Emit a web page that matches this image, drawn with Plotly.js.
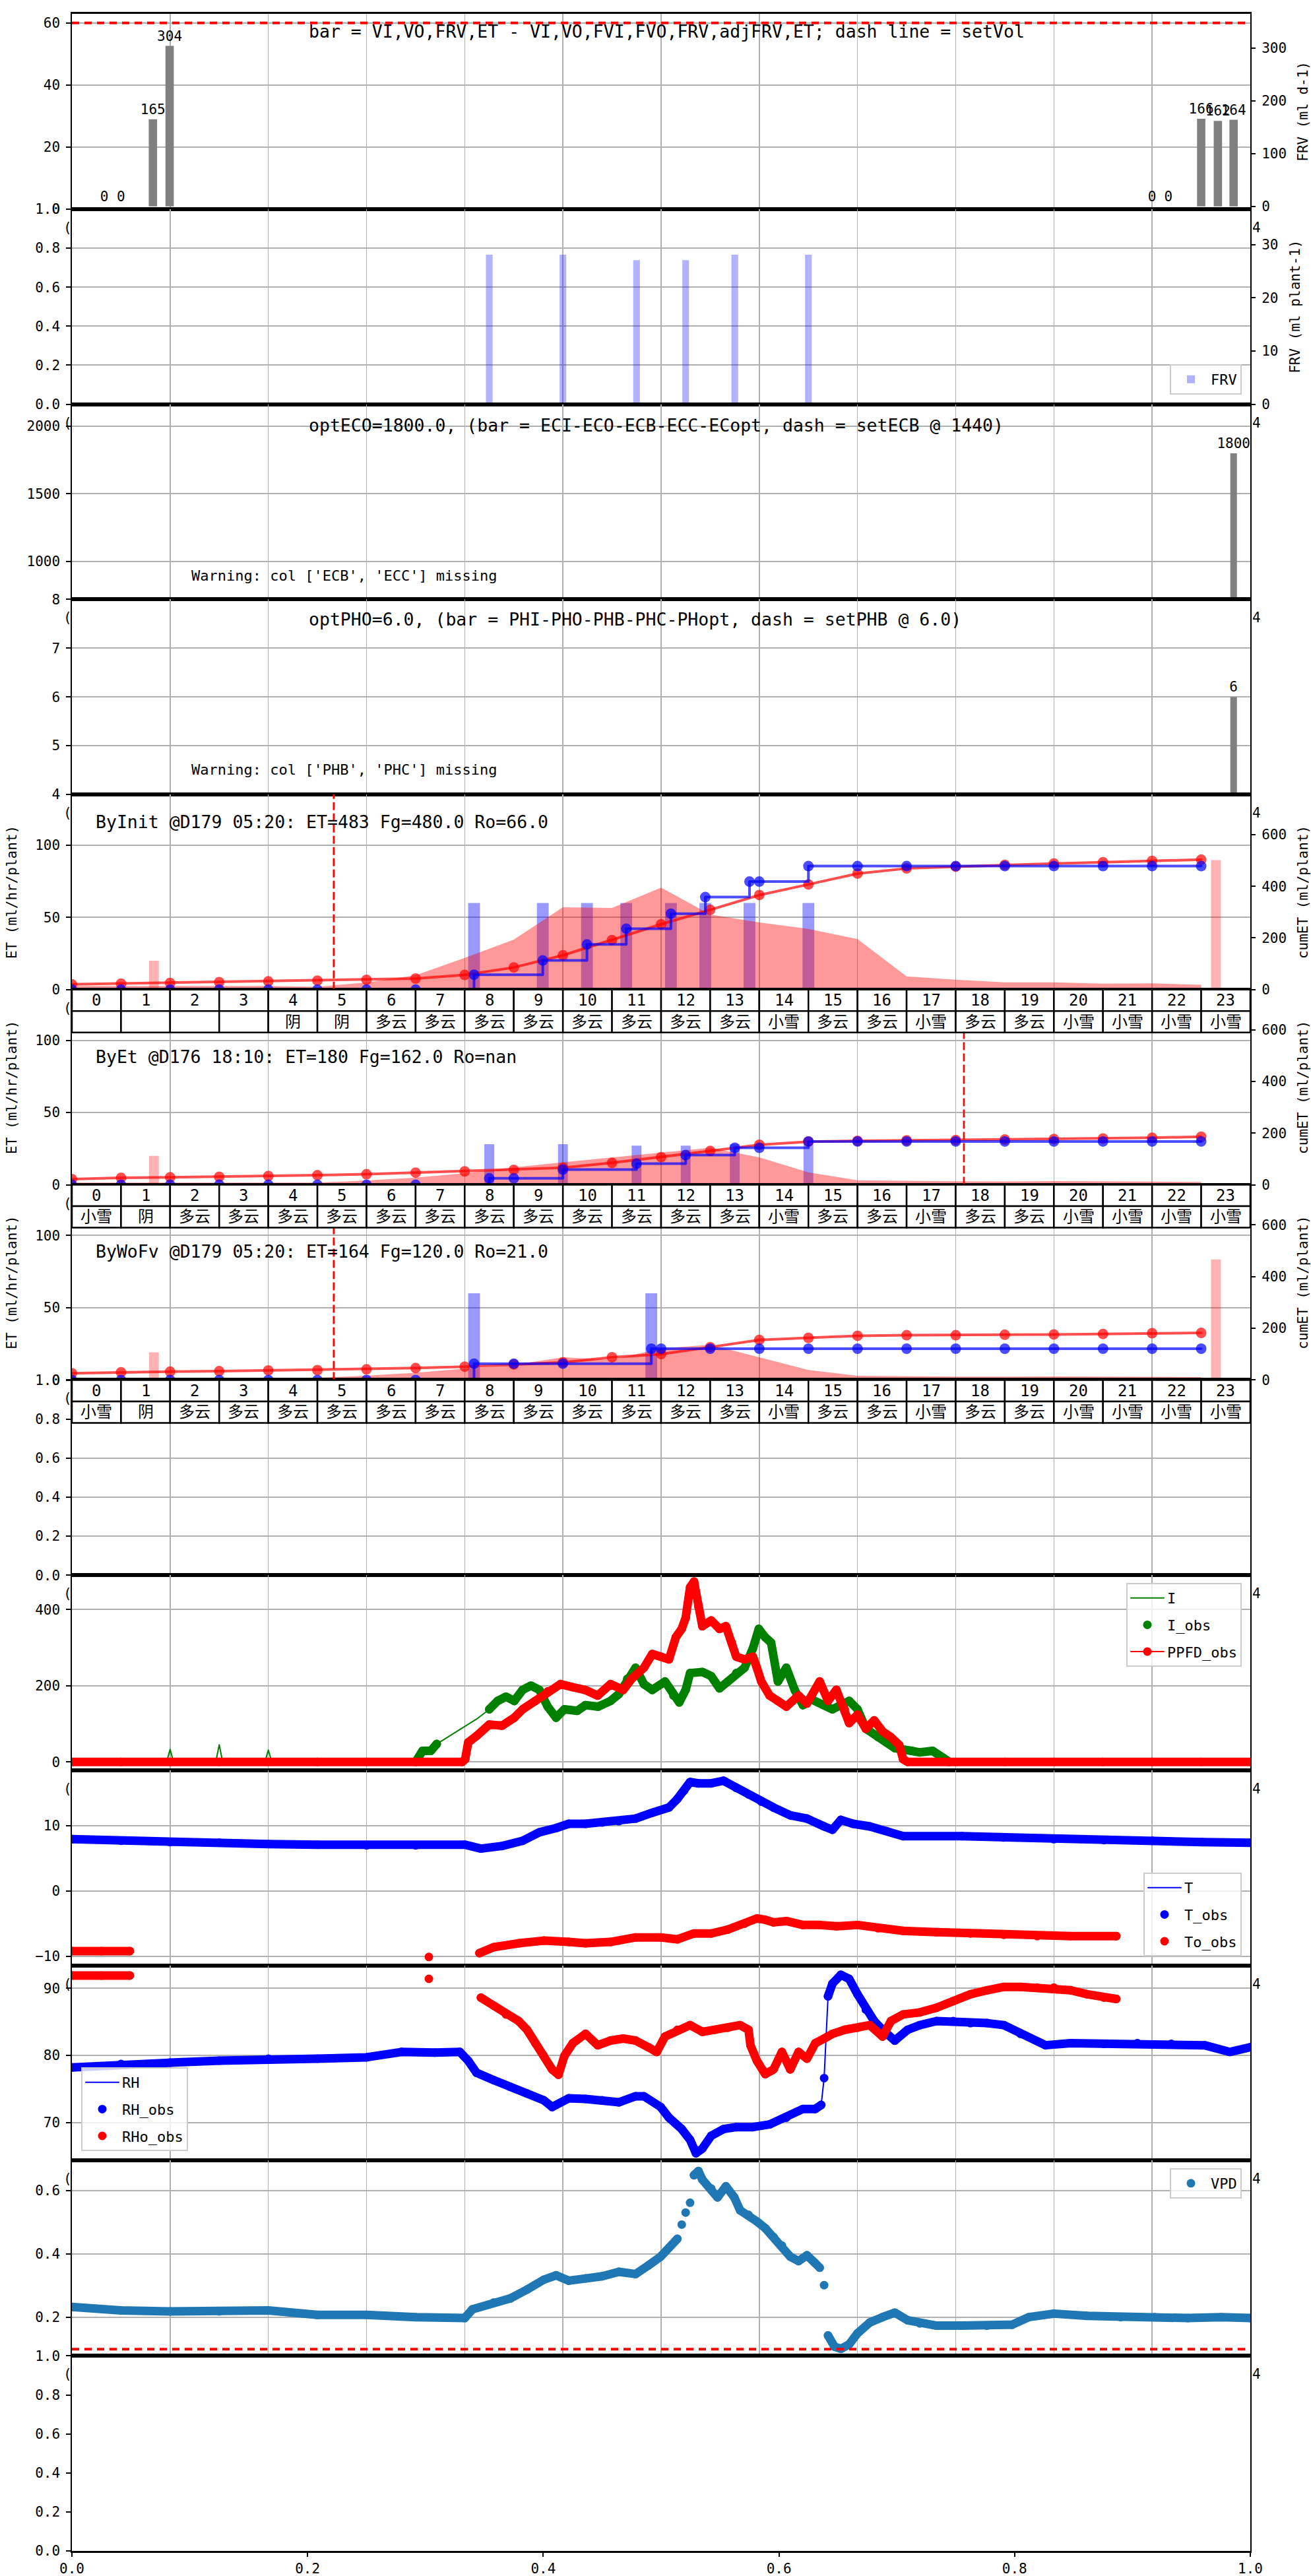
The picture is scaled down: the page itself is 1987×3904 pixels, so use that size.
<!DOCTYPE html>
<html><head><meta charset="utf-8">
<script src="https://cdn.plot.ly/plotly-3.0.1.min.js"></script>
<style>body{margin:0;background:#fff}.js-line{stroke-linejoin:round;stroke-linecap:round}</style>
</head><body>
<div id="chart" style="width:1987px;height:3904px"></div>
<script>
// ---------------- DATA ----------------
// Panel 1: volumes (bars on right axis, ml d-1)
const p1BarX = [0.66, 1.0, 1.65, 1.99, 22.0, 22.33, 23.0, 23.34, 23.66];
const p1BarY = [0, 0, 165, 304, 0, 0, 166, 162, 164];
const setVol = 60;
const p1Title = 'bar = VI,VO,FRV,ET - VI,VO,FVI,FVO,FRV,adjFRV,ET; dash line = setVol';
// Panel 2: FRV per plant
const frvX = [8.5, 10.0, 11.5, 12.5, 13.5, 15.0];
const frvY = [28.1, 28.1, 27.1, 27.1, 28.1, 28.1];
// Panel 3: EC
const ecoBarX = [23.66];
const ecoBarY = [1800];
const ecoTitle = 'optECO=1800.0, (bar = ECI-ECO-ECB-ECC-ECopt, dash = setECB @ 1440)';
const ecoWarn = "Warning: col ['ECB', 'ECC'] missing";
// Panel 4: PH
const phoBarX = [23.66];
const phoBarY = [6];
const phoTitle = 'optPHO=6.0, (bar = PHI-PHO-PHB-PHC-PHopt, dash = setPHB @ 6.0)';
const phoWarn = "Warning: col ['PHB', 'PHC'] missing";

// ET panels (hourly)
const hours = [0,1,2,3,4,5,6,7,8,9,10,11,12,13,14,15,16,17,18,19,20,21,22,23];
const hourLabels = ['0','1','2','3','4','5','6','7','8','9','10','11','12','13','14','15','16','17','18','19','20','21','22','23'];
const weather5 = ['','','','','阴','阴','多云','多云','多云','多云','多云','多云','多云','多云','小雪','多云','多云','小雪','多云','多云','小雪','小雪','小雪','小雪'];
const weather67 = ['小雪','阴','多云','多云','多云','多云','多云','多云','多云','多云','多云','多云','多云','多云','小雪','多云','多云','小雪','多云','多云','小雪','小雪','小雪','小雪'];

const et5 = [2.5,2.5,2.5,2.5,2.5,2.0,5,10,22,34.6,57,56.5,70.6,52,46.5,42,35,9.2,6.9,5.1,5.1,4.2,4.4,3.4];
const cum5 = [20.5,23.5,26,29,32,35,38,43,57,86,133,192,253,309,366,407,449,469,476,483,488,493,498,503];
const cumObs5 = [[0,0],[1,0],[2,0],[3,0],[4,0],[5,0],[6,0],[7,0],[8.19,58],[9.59,113],[10.49,175],[11.29,236],[12.2,294],[12.9,358],[13.8,418],[14,418],[15,478],[16,478],[17,478],[18,478],[19,478],[20,478],[21,478],[22,478],[23,478]];
const frv5X = [8.19,9.59,10.49,11.29,12.2,12.9,13.8,15.0];
const frv5Y = [60,60,60,60,60,60,60,60];
const pink5X = [1.67,23.3];
const pink5Y = [112,501];
const title5 = 'ByInit @D179 05:20: ET=483 Fg=480.0 Ro=66.0';
const evt5 = 5.333;

const et6 = [1.5,1.5,1.5,1.5,1.5,1.5,3,5,8,12,15.6,19,22.4,25.6,19,8.6,3.1,2.7,2.5,2.3,2.6,2.4,2.2,2.0];
const cum6 = [22,27,29,31,34,37,41,47,52,58,66,85,107,131,155,167,170,172,173,175,177,179,182,186];
const cumObs6 = [[0,0],[1,0],[2,0],[3,0],[4,0],[5,0],[6,0],[7,0],[8.5,25],[9,25],[10,59],[11.5,82],[12.5,115],[13.5,143],[14,143],[15,167.6],[16,167.6],[17,167.6],[18,167.6],[19,167.6],[20,167.6],[21,167.6],[22,167.6],[23,167.6]];
const frv6X = [8.5,10,11.5,12.5,13.5,15];
const frv6Y = [28.1,28.1,27.1,27.1,28.1,28.1];
const pink6X = [1.67];
const pink6Y = [112];
const title6 = 'ByEt @D176 18:10: ET=180 Fg=162.0 Ro=nan';
const evt6 = 18.167;

const et7 = [1.5,1.5,1.5,1.5,1.5,1.5,3,5,7.8,10.5,15.7,14,21.8,24.4,15.7,6.9,2.9,2.5,2.4,2.3,2.5,2.3,2.2,2.0];
const cum7 = [26,30,32,34,37,38,41,46,51.6,60,68,88,100,127,155,163,171,173,173,175,176,178,181,182];
const cumObs7 = [[0,0],[1,0],[2,0],[3,0],[4,0],[5,0],[6,0],[7,0],[8.19,63],[9,63],[10,63],[11.8,121],[12,121],[13,121],[14,121],[15,121],[16,121],[17,121],[18,121],[19,121],[20,121],[21,121],[22,121],[23,121]];
const frv7X = [8.19,11.8];
const frv7Y = [60,60];
const pink7X = [1.67,23.3];
const pink7Y = [107,466];
const title7 = 'ByWoFv @D179 05:20: ET=164 Fg=120.0 Ro=21.0';
const evt7 = 5.333;

// Panel 9: light
const Iline = [[0,0],[1.93,0],[2.0,33],[2.07,0],[2.93,0],[3.0,45],[3.07,0],[3.93,0],[4.0,31],[4.07,0],[7.0,0],[7.14,29],[7.31,29],[7.43,47],[8.25,113],[8.5,138],[8.67,160],[8.84,171],[9.01,160],[9.18,189],[9.35,200],[9.52,189],[9.69,145],[9.86,116],[10.03,138],[10.29,134],[10.46,149],[10.72,145],[10.97,160],[11.14,178],[11.31,218],[11.48,247],[11.65,204],[11.82,189],[12.08,211],[12.25,174],[12.37,156],[12.5,189],[12.59,233],[12.84,236],[13.02,225],[13.19,193],[13.36,211],[13.53,233],[13.7,247],[13.87,298],[13.99,349],[14.12,327],[14.24,313],[14.38,211],[14.55,247],[14.72,189],[14.89,149],[15.06,164],[15.32,149],[15.49,138],[15.83,160],[16.0,138],[16.17,87],[16.42,65],[16.76,36],[17.1,29],[17.27,25],[17.53,29],[17.7,11],[17.87,0],[24,0]];
const Iobs = [[7.0,0],[7.14,29],[7.31,29],[7.43,47],[7.9,null],[8.5,138],[8.67,160],[8.84,171],[9.01,160],[9.18,189],[9.35,200],[9.52,189],[9.69,145],[9.86,116],[10.03,138],[10.29,134],[10.46,149],[10.72,145],[10.97,160],[11.14,178],[11.31,218],[11.48,247],[11.65,204],[11.82,189],[12.08,211],[12.25,174],[12.37,156],[12.5,189],[12.59,233],[12.84,236],[13.02,225],[13.19,193],[13.36,211],[13.53,233],[13.7,247],[13.87,298],[13.99,349],[14.12,327],[14.24,313],[14.38,211],[14.55,247],[14.72,189],[14.89,149],[15.06,164],[15.32,149],[15.49,138],[15.83,160],[16.0,138],[16.17,87],[16.42,65],[16.76,36],[17.1,29],[17.27,25],[17.53,29],[17.7,11],[17.87,0]];
const PPFDobs = [[0,0],[1,0],[2,0],[3,0],[4,0],[5,0],[6,0],[7,0],[7.95,0],[8.01,7],[8.07,51],[8.25,69],[8.5,98],[8.76,95],[9.01,116],[9.18,138],[9.44,160],[9.69,185],[9.95,204],[10.2,196],[10.45,189],[10.71,174],[10.97,204],[11.23,189],[11.4,218],[11.65,247],[11.82,283],[11.99,276],[12.16,269],[12.3,327],[12.42,349],[12.5,378],[12.59,458],[12.67,473],[12.76,407],[12.84,356],[13.02,371],[13.19,349],[13.32,356],[13.44,313],[13.53,276],[13.7,269],[13.87,276],[13.95,247],[14.04,211],[14.21,174],[14.38,160],[14.55,145],[14.8,174],[14.97,153],[15.23,211],[15.4,160],[15.57,189],[15.74,138],[15.83,102],[16.0,124],[16.17,87],[16.34,109],[16.51,80],[16.68,65],[16.85,44],[16.93,7],[17.02,0],[18,0],[19,0],[20,0],[21,0],[22,0],[23,0],[24,0]];

// Panel 10: temperature
const Tobs = [[0,7.95],[1,7.7],[2,7.5],[3,7.4],[4,7.2],[5,7.1],[6,7.0],[7,7.0],[8,7.1],[8.33,6.5],[8.76,6.9],[9.18,7.7],[9.52,9.0],[9.86,9.65],[10.12,10.3],[10.46,10.3],[10.8,10.5],[11.14,10.7],[11.48,11.1],[11.82,12.0],[12.16,12.8],[12.33,14.1],[12.47,15.4],[12.59,16.7],[12.76,16.5],[13.02,16.5],[13.27,16.9],[13.53,15.8],[13.78,14.8],[14.04,13.7],[14.29,12.8],[14.63,11.6],[14.97,11.1],[15.32,9.9],[15.49,9.4],[15.66,10.9],[15.91,10.3],[16.25,9.9],[16.59,9.2],[16.93,8.4],[18.13,8.4],[18.98,8.2],[20.0,7.95],[21.02,7.8],[22.01,7.7],[23.02,7.5],[24.0,7.4]];
const Toobs = [[0,-9.2],[0.6,-9.2],[1.18,-9.2],[1.5,null],[7.27,-10.1],[7.8,null],[8.3,-9.5],[8.59,-8.6],[9.1,-8.0],[9.61,-7.6],[10.12,-7.8],[10.46,-8.0],[10.97,-7.8],[11.48,-7.1],[11.99,-7.1],[12.33,-7.4],[12.67,-6.5],[13.02,-6.5],[13.36,-5.9],[13.7,-5.0],[13.95,-4.2],[14.12,-4.4],[14.29,-4.8],[14.55,-4.6],[14.89,-5.2],[15.23,-5.2],[15.57,-5.4],[16.0,-5.2],[16.42,-5.7],[16.93,-6.1],[17.61,-6.3],[18.3,-6.5],[18.98,-6.7],[19.66,-6.9],[20.34,-6.9],[21.27,-6.9]];

// Panel 11: humidity
const RHobs = [[0,78.2],[1,78.7],[2,78.9],[3,79.2],[4,79.5],[5,79.5],[6,79.7],[6.71,80.5],[7.39,80.4],[7.9,80.5],[8.07,79.2],[8.24,77.4],[8.59,76.3],[8.93,75.3],[9.27,74.3],[9.61,73.3],[9.78,72.3],[10.12,73.6],[10.46,73.5],[10.8,73.3],[11.14,73.0],[11.48,73.9],[11.65,73.9],[11.99,72.3],[12.16,70.7],[12.42,69.0],[12.59,67.4],[12.71,65.4],[12.84,66.1],[13.02,68.0],[13.27,69.0],[13.53,69.3],[13.87,69.3],[14.21,69.7],[14.55,70.7],[14.89,72.0],[15.14,72.0],[15.26,72.6],[15.29,null],[15.32,76.6],[15.36,null],[15.4,88.8],[15.49,90.7],[15.66,92.0],[15.83,91.4],[16.0,89.1],[16.17,86.8],[16.34,85.1],[16.51,83.8],[16.76,82.2],[17.02,83.8],[17.27,84.5],[17.61,85.1],[17.95,85.1],[18.3,84.8],[18.64,84.8],[18.98,84.5],[19.32,83.2],[19.83,81.5],[20.34,81.8],[21.02,81.7],[21.7,81.8],[22.39,81.7],[23.07,81.5],[23.58,80.5],[24.0,81.2]];
const RHoobs = [[0,91.9],[0.6,91.9],[1.18,91.9],[1.5,null],[7.27,91.4],[7.8,null],[8.33,88.6],[8.59,87.4],[8.84,86.1],[9.1,85.1],[9.27,83.8],[9.44,81.8],[9.61,79.9],[9.78,77.9],[9.91,77.1],[10.03,79.9],[10.2,81.8],[10.46,83.2],[10.71,81.5],[10.97,82.2],[11.23,82.5],[11.48,82.2],[11.74,81.2],[11.91,80.5],[12.08,82.8],[12.33,83.8],[12.59,84.5],[12.84,83.5],[13.1,83.8],[13.36,84.1],[13.61,84.5],[13.78,83.8],[13.82,81.5],[13.95,79.2],[14.12,77.2],[14.29,77.9],[14.46,80.5],[14.63,77.9],[14.8,80.5],[14.97,79.5],[15.14,81.8],[15.32,82.5],[15.49,83.2],[15.74,83.8],[16.0,84.1],[16.25,84.5],[16.51,82.8],[16.68,85.1],[16.93,86.1],[17.27,86.4],[17.61,87.1],[17.95,88.1],[18.3,89.1],[18.64,89.7],[18.98,90.2],[19.32,90.2],[19.66,90.1],[20.0,90.1],[20.34,89.7],[20.68,89.1],[21.02,88.6],[21.27,88.4]];

// Panel 12: VPD
const VPDobs = [[0,0.233],[1,0.222],[2,0.219],[3,0.219],[4,0.222],[5,0.208],[6,0.208],[7,0.201],[8,0.198],[8.16,0.226],[8.59,0.247],[8.93,0.26],[9.27,0.288],[9.61,0.319],[9.86,0.333],[10.12,0.316],[10.46,0.323],[10.8,0.33],[11.14,0.344],[11.48,0.337],[11.74,0.364],[11.99,0.392],[12.16,0.42],[12.33,0.448],[12.38,null],[12.42,0.493],[12.46,null],[12.5,0.531],[12.55,null],[12.59,0.562],[12.63,null],[12.67,0.649],[12.76,0.662],[12.84,0.635],[13.02,0.607],[13.15,0.579],[13.32,0.614],[13.49,0.579],[13.61,0.538],[13.78,0.524],[13.95,0.503],[14.12,0.482],[14.29,0.454],[14.46,0.427],[14.63,0.392],[14.8,0.378],[14.97,0.396],[15.14,0.371],[15.23,0.357],[15.28,null],[15.32,0.302],[15.36,null],[15.4,0.143],[15.53,0.108],[15.66,0.101],[15.83,0.115],[16.0,0.15],[16.25,0.184],[16.51,0.201],[16.76,0.215],[17.02,0.191],[17.27,0.181],[17.61,0.174],[18.13,0.174],[18.64,0.174],[19.15,0.177],[19.49,0.201],[20.0,0.212],[20.68,0.205],[21.36,0.201],[22.05,0.201],[22.73,0.198],[23.41,0.201],[24.0,0.198]];
const vpdLimit = 0.1;

// ---------------- LAYOUT HELPERS ----------------
const FONT = 'DejaVu Sans Mono, Noto Sans CJK SC, monospace';
const GRID = '#b0b0b0';
const T0 = 21, B0 = 3866, L0 = 109, R0 = 1895;
const PH = (B0 - T0) / 13;
const yp = px => (B0 - px) / (B0 - T0);
const xp = px => (px - L0) / (R0 - L0);
const pTop = i => T0 + (i - 1) * PH;
const pBot = i => T0 + i * PH;
const X = a => a.map(p => p[0]);
const Y = a => a.map(p => p[1]);

const layout = {
  width: 1987, height: 3904,
  margin: {l: L0, r: 1987 - R0, t: T0, b: 3904 - B0},
  paper_bgcolor: 'white', plot_bgcolor: 'white',
  font: {family: FONT, size: 21, color: 'black'},
  showlegend: true, barmode: 'overlay', hovermode: false,
  annotations: [], shapes: []
};

const yRanges = {1:[0,62.9],2:[0,1.0005],3:[720,2163],4:[3.999,8.001],5:[0,135],6:[0,135],7:[0,135],8:[0,1.0005],9:[-22,490],10:[-11.4,18.5],11:[64.3,93.4],12:[0.079,0.695],13:[0,1.0005]};
const yTicks = {1:[0,20,40,60],2:[0,0.2,0.4,0.6,0.8,1.0],3:[1000,1500,2000],4:[4,5,6,7,8],5:[0,50,100],6:[0,50,100],7:[0,50,100],8:[0,0.2,0.4,0.6,0.8,1.0],9:[0,200,400],10:[-10,0,10],11:[70,80,90],12:[0.2,0.4,0.6],13:[0,0.2,0.4,0.6,0.8,1.0]};
const yFmt = {2:'.1f',8:'.1f',12:'.1f',13:'.1f'};

for (let i = 1; i <= 13; i++) {
  const xs = i === 1 ? '' : String(i);
  const xa = {
    domain: [0, 1], anchor: 'y' + xs, range: i === 13 ? [0, 1] : [0, 24],
    showgrid: i !== 13, gridcolor: GRID, gridwidth: 1.5,
    tickmode: 'linear', tick0: 0, dtick: i === 13 ? 0.2 : 2,
    showticklabels: i === 13, ticks: i === 13 ? 'outside' : '',
    ticklen: 6, tickwidth: 2, tickcolor: 'black', tickformat: '.1f',
    showline: true, linecolor: 'black', linewidth: 3, mirror: true, zeroline: false,
    tickfont: {size: 21}, ticklabelstandoff: 0
  };
  const d0 = Math.max(0, 1 - i / 13), d1 = Math.min(1, 1 - (i - 1) / 13);
  const ya = {
    domain: [d0, d1], anchor: 'x' + xs, range: yRanges[i],
    tickmode: 'array', tickvals: yTicks[i],
    showgrid: i !== 13, gridcolor: GRID, gridwidth: 2,
    ticks: 'outside', ticklen: 7, tickwidth: 2, tickcolor: 'black',
    showline: true, linecolor: 'black', linewidth: 1.7, mirror: true, zeroline: false,
    tickfont: {size: 21}, ticklabelstandoff: 5
  };
  if (yFmt[i]) ya.tickformat = yFmt[i];
  if (i >= 5 && i <= 7) ya.title = {text: 'ET (ml/hr/plant)', font: {size: 21}, standoff: 22};
  layout['xaxis' + xs] = xa;
  layout['yaxis' + xs] = ya;
}
function rightAxis(base, range, ticks, title) {
  return {overlaying: base, side: 'right', anchor: base.replace('y', 'x'), range: range,
    tickmode: 'array', tickvals: ticks, showgrid: false, zeroline: false, showline: false,
    ticks: 'outside', ticklen: 7, tickwidth: 2, tickcolor: 'black', tickfont: {size: 21},
    ticklabelstandoff: 5, title: {text: title, font: {size: 21}, standoff: 18}};
}
layout.yaxis14 = rightAxis('y', [-4.9, 364.6], [0,100,200,300], 'FRV (ml d-1)');
layout.yaxis15 = rightAxis('y2', [0, 36.7], [0,10,20,30], 'FRV (ml plant-1)');
layout.yaxis16 = rightAxis('y5', [0, 755], [0,200,400,600], 'cumET (ml/plant)');
layout.yaxis17 = rightAxis('y6', [0, 755], [0,200,400,600], 'cumET (ml/plant)');
layout.yaxis18 = rightAxis('y7', [0, 755], [0,200,400,600], 'cumET (ml/plant)');

const legendBase = {bgcolor: 'rgba(255,255,255,0.8)', bordercolor: '#cccccc', borderwidth: 2,
  font: {size: 22}, traceorder: 'grouped', tracegroupgap: 9, itemwidth: 50};
layout.legend = Object.assign({}, legendBase, {x: xp(1882), xanchor: 'right', y: yp(598), yanchor: 'bottom'});
layout.legend2 = Object.assign({}, legendBase, {x: xp(1882), xanchor: 'right', y: yp(2399), yanchor: 'top'});
layout.legend3 = Object.assign({}, legendBase, {x: xp(1882), xanchor: 'right', y: yp(2965), yanchor: 'bottom'});
layout.legend4 = Object.assign({}, legendBase, {x: xp(123), xanchor: 'left', y: yp(3260), yanchor: 'bottom'});
layout.legend5 = Object.assign({}, legendBase, {x: xp(1882), xanchor: 'right', y: yp(3286), yanchor: 'top'});

// ---------------- TRACES ----------------
const traces = [];
// every base subplot gets an (empty) trace so that the axes pair is created
for (let i = 1; i <= 13; i++) {
  const s = i === 1 ? '' : String(i);
  traces.push({type: 'scatter', x: [null], y: [null], xaxis: 'x' + s, yaxis: 'y' + s, mode: 'markers', showlegend: false});
}
const GRAY = '#808080';
function barText(vals) { return vals.map(v => String(v)); }
// Panel 1
traces.push({type: 'bar', x: p1BarX, y: p1BarY, xaxis: 'x', yaxis: 'y14', width: 0.17,
  marker: {color: GRAY}, text: barText(p1BarY), textposition: 'outside', textangle: 0,
  constraintext: 'none', textfont: {size: 21, color: 'black'}, showlegend: false});
// Panel 2
traces.push({type: 'bar', x: frvX, y: frvY, xaxis: 'x2', yaxis: 'y15', width: 0.136,
  marker: {color: 'rgba(0,0,255,0.3)'}, name: 'FRV', legend: 'legend', legendgroup: 'frv', showlegend: true});
// Panel 3/4
traces.push({type: 'bar', x: ecoBarX, y: ecoBarY, xaxis: 'x3', yaxis: 'y3', width: 0.135,
  marker: {color: GRAY}, text: barText(ecoBarY), textposition: 'outside', textangle: 0,
  constraintext: 'none', textfont: {size: 21}, showlegend: false});
traces.push({type: 'bar', x: phoBarX, y: phoBarY, xaxis: 'x4', yaxis: 'y4', width: 0.135,
  marker: {color: GRAY}, text: barText(phoBarY), textposition: 'outside', textangle: 0,
  constraintext: 'none', textfont: {size: 21}, showlegend: false});

// ET panels
function etPanel(p, yr, et, cum, cumObs, fx, fy, fw, pkx, pky) {
  const xa = 'x' + p, ya = 'y' + p;
  traces.push({x: hours, y: et, xaxis: xa, yaxis: ya, mode: 'lines', fill: 'tozeroy',
    fillcolor: 'rgba(255,0,0,0.4)', line: {width: 0, color: 'rgba(255,0,0,0)'}, showlegend: false});
  traces.push({type: 'bar', x: fx, y: fy, xaxis: xa, yaxis: ya, width: fw,
    marker: {color: 'rgba(0,0,255,0.4)'}, showlegend: false});
  traces.push({type: 'bar', x: pkx, y: pky, xaxis: xa, yaxis: yr, width: 0.2,
    marker: {color: 'rgba(255,0,0,0.3)'}, showlegend: false});
  traces.push({x: hours, y: cum, xaxis: xa, yaxis: yr, mode: 'lines+markers',
    line: {color: 'rgba(255,0,0,0.7)', width: 4}, marker: {size: 16, color: 'rgba(255,0,0,0.7)'}, showlegend: false});
  traces.push({x: X(cumObs), y: Y(cumObs), xaxis: xa, yaxis: yr, mode: 'lines+markers',
    line: {color: 'rgba(0,0,255,0.7)', width: 4, shape: 'hv'}, marker: {size: 16, color: 'rgba(0,0,255,0.7)'}, showlegend: false});
}
etPanel(5, 'y16', et5, cum5, cumObs5, frv5X, frv5Y, 0.24, pink5X, pink5Y);
etPanel(6, 'y17', et6, cum6, cumObs6, frv6X, frv6Y, 0.2, pink6X, pink6Y);
etPanel(7, 'y18', et7, cum7, cumObs7, frv7X, frv7Y, 0.24, pink7X, pink7Y);

// Observation helpers: a thick band (dense markers look) + markers
const MS = 13;
function band(a, xa, ya, color) {
  traces.push({x: X(a), y: Y(a), xaxis: xa, yaxis: ya, mode: 'lines', connectgaps: false,
    line: {color: color, width: MS}, showlegend: false});
}
// Panel 9
traces.push({x: X(Iline), y: Y(Iline), xaxis: 'x9', yaxis: 'y9', mode: 'lines',
  line: {color: 'green', width: 2}, name: 'I', legend: 'legend2', legendgroup: 'I'});
band(Iobs, 'x9', 'y9', 'green');
traces.push({x: X(Iobs), y: Y(Iobs), xaxis: 'x9', yaxis: 'y9', mode: 'markers',
  marker: {color: 'green', size: MS}, name: 'I_obs', legend: 'legend2', legendgroup: 'Iobs'});
band(PPFDobs, 'x9', 'y9', 'red');
traces.push({x: X(PPFDobs), y: Y(PPFDobs), xaxis: 'x9', yaxis: 'y9', mode: 'lines+markers',
  line: {color: 'red', width: 2}, marker: {color: 'red', size: MS}, name: 'PPFD_obs', legend: 'legend2', legendgroup: 'ppfd'});
// Panel 10
traces.push({x: X(Tobs), y: Y(Tobs), xaxis: 'x10', yaxis: 'y10', mode: 'lines',
  line: {color: 'blue', width: 2}, name: 'T', legend: 'legend3', legendgroup: 'T'});
band(Tobs, 'x10', 'y10', 'blue');
traces.push({x: X(Tobs), y: Y(Tobs), xaxis: 'x10', yaxis: 'y10', mode: 'markers',
  marker: {color: 'blue', size: MS}, name: 'T_obs', legend: 'legend3', legendgroup: 'Tobs'});
band(Toobs, 'x10', 'y10', 'red');
traces.push({x: X(Toobs), y: Y(Toobs), xaxis: 'x10', yaxis: 'y10', mode: 'markers',
  marker: {color: 'red', size: MS}, name: 'To_obs', legend: 'legend3', legendgroup: 'Toobs'});
// Panel 11
traces.push({x: X(RHobs), y: Y(RHobs), xaxis: 'x11', yaxis: 'y11', mode: 'lines', connectgaps: true,
  line: {color: 'blue', width: 2}, name: 'RH', legend: 'legend4', legendgroup: 'RH'});
band(RHobs, 'x11', 'y11', 'blue');
traces.push({x: X(RHobs), y: Y(RHobs), xaxis: 'x11', yaxis: 'y11', mode: 'markers',
  marker: {color: 'blue', size: MS}, name: 'RH_obs', legend: 'legend4', legendgroup: 'RHobs'});
band(RHoobs, 'x11', 'y11', 'red');
traces.push({x: X(RHoobs), y: Y(RHoobs), xaxis: 'x11', yaxis: 'y11', mode: 'markers',
  marker: {color: 'red', size: MS}, name: 'RHo_obs', legend: 'legend4', legendgroup: 'RHoobs'});
// Panel 12
band(VPDobs, 'x12', 'y12', '#1f77b4');
traces.push({x: X(VPDobs), y: Y(VPDobs), xaxis: 'x12', yaxis: 'y12', mode: 'markers',
  marker: {color: '#1f77b4', size: MS}, name: 'VPD', legend: 'legend5', legendgroup: 'vpd'});

// ---------------- SHAPES & ANNOTATIONS ----------------
const S = layout.shapes, A = layout.annotations;
S.push({type: 'line', xref: 'x domain', yref: 'y', x0: 0, x1: 1, y0: setVol, y1: setVol,
  line: {color: 'red', width: 4, dash: '11px,8px'}});
S.push({type: 'line', xref: 'x12 domain', yref: 'y12', x0: 0, x1: 1, y0: vpdLimit, y1: vpdLimit,
  line: {color: 'red', width: 4, dash: '11px,8px'}});
[[5, evt5], [6, evt6], [7, evt7]].forEach(([p, e]) => {
  S.push({type: 'line', xref: 'x' + p, yref: 'y' + p + ' domain', x0: e, x1: e, y0: 0, y1: 1,
    line: {color: 'red', width: 2.7, dash: '12px,5px'}});
});

function note(text, x, y, size, xanchor) {
  A.push({xref: 'paper', yref: 'paper', x: x, y: y, text: text, showarrow: false,
    xanchor: xanchor || 'left', yanchor: 'middle', font: {size: size}});
}
note(p1Title, 0.2, yp(pTop(1) + 27), 26.5);
note(ecoTitle, 0.2, yp(pTop(3) + 32), 26.5);
note(phoTitle, 0.2, yp(pTop(4) + 30.5), 26.5);
note(ecoWarn, 0.1, yp(pTop(3) + 259.5), 22);
note(phoWarn, 0.1, yp(pTop(4) + 258), 22);
note(title5, xp(143), yp(pTop(5) + 41.5), 26.5);
note(title6, xp(143), yp(pTop(6) + 101.5), 26.5);
note(title7, xp(143), yp(pTop(7) + 100.5), 26.5);

// clipped x tick labels peeking out at the panel edges
for (let i = 1; i <= 12; i++) {
  A.push({xref: 'paper', yref: 'paper', x: 0, xshift: 2, y: yp(pBot(i) + 28), text: '(', showarrow: false,
    xanchor: 'right', yanchor: 'middle', font: {size: 21}});
  if (i < 5 || i > 7) {
    A.push({xref: 'paper', yref: 'paper', x: 1, xshift: 1, y: yp(pBot(i) + 28), text: '4', showarrow: false,
      xanchor: 'left', yanchor: 'middle', font: {size: 21}});
  }
}

// hour / weather tables below ET panels
const RH_ = 32.5;
[[5, weather5], [6, weather67], [7, weather67]].forEach(([p, wx]) => {
  const b = pBot(p);
  hours.forEach((h, k) => {
    S.push({type: 'rect', xref: 'x' + p, yref: 'paper', x0: h, x1: h + 1, y0: yp(b + RH_), y1: yp(b),
      fillcolor: 'white', line: {color: 'black', width: 2.5}, layer: 'above'});
    S.push({type: 'rect', xref: 'x' + p, yref: 'paper', x0: h, x1: h + 1, y0: yp(b + 2 * RH_), y1: yp(b + RH_),
      fillcolor: 'white', line: {color: 'black', width: 2.5}, layer: 'above'});
    A.push({xref: 'x' + p, yref: 'paper', x: h + 0.5, y: yp(b + RH_ / 2), text: hourLabels[k], showarrow: false,
      xanchor: 'center', yanchor: 'middle', font: {size: 24}});
    if (wx[k]) A.push({xref: 'x' + p, yref: 'paper', x: h + 0.5, y: yp(b + 1.5 * RH_), text: wx[k], showarrow: false,
      xanchor: 'center', yanchor: 'middle', font: {size: 24}});
  });
});

Plotly.newPlot('chart', traces, layout, {displayModeBar: false, staticPlot: true});
</script>
</body></html>
